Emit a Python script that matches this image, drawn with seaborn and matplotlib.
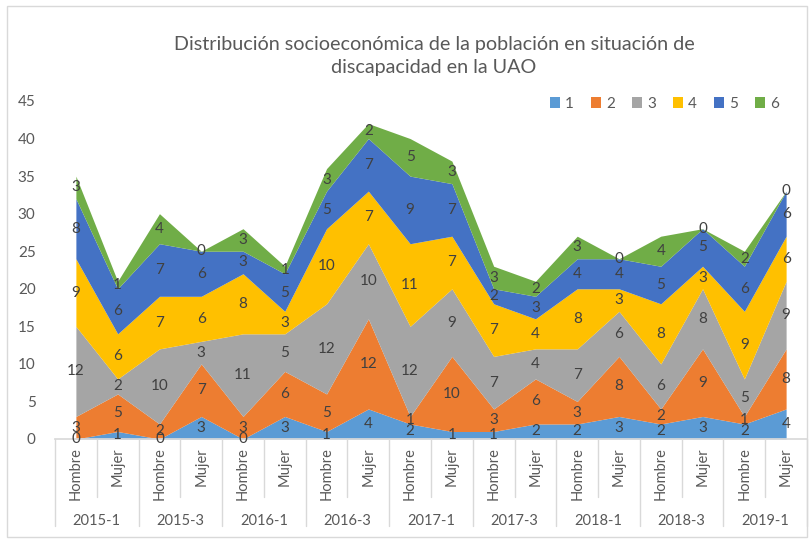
import numpy as np
import matplotlib
matplotlib.use("Agg")
import matplotlib.pyplot as plt
import matplotlib.transforms as mtransforms
from matplotlib.patches import Patch
import seaborn as sns

# Datos
semestres = ['2015-1', '2015-3', '2016-1', '2016-3', '2017-1', '2017-3', '2018-1', '2018-3', '2019-1']
generos = ['Hombre', 'Mujer']
estratos = ['1', '2', '3', '4', '5', '6']

estrato_1 = [0, 1, 0, 3, 0, 3, 1, 4, 2, 1, 1, 2, 2, 3, 2, 3, 2, 4]
estrato_2 = [3, 5, 2, 7, 3, 6, 5, 12, 1, 10, 3, 6, 3, 8, 2, 9, 1, 8]
estrato_3 = [12, 2, 10, 3, 11, 5, 12, 10, 12, 9, 7, 4, 7, 6, 6, 8, 5, 9]
estrato_4 = [9, 6, 7, 6, 8, 3, 10, 7, 11, 7, 7, 4, 8, 3, 8, 3, 9, 6]
estrato_5 = [8, 6, 7, 6, 3, 5, 5, 7, 9, 7, 2, 3, 4, 4, 5, 5, 6, 6]
estrato_6 = [3, 1, 4, 0, 3, 1, 3, 2, 5, 3, 3, 2, 3, 0, 4, 0, 2, 0]

colores = ['#5B9BD5', '#ED7D31', '#A5A5A5', '#FFC000', '#4472C4', '#70AD47']

sns.set_theme(style="white")
plt.rcParams['font.family'] = ['Lato', 'DejaVu Sans']

series = np.array([estrato_1, estrato_2, estrato_3, estrato_4, estrato_5, estrato_6])
x = np.arange(series.shape[1])
etiquetas_x = generos * len(semestres)

fig = plt.figure(figsize=(8.11, 5.41), dpi=100)
ax = fig.add_axes([55 / 811, 102 / 541, 752 / 811, 338 / 541])

ax.stackplot(x, series, colors=colores, linewidth=0)

# Etiquetas de datos en el centro de cada banda
acumulado = np.cumsum(series, axis=0)
for i in range(series.shape[0]):
    centros = acumulado[i] - series[i] / 2
    for j in range(series.shape[1]):
        ax.text(x[j], centros[j], str(series[i][j]), ha='center', va='center',
                fontsize=11, color='#404040')

ax.set_xlim(-0.5, len(x) - 0.5)
ax.set_ylim(0, 45)
ax.set_yticks(range(0, 46, 5))
ax.tick_params(axis='y', labelsize=11, labelcolor='#595959', length=0, pad=14)
ax.set_xticks(x)
ax.set_xticklabels(etiquetas_x, rotation=90, fontsize=10.5, color='#595959')
ax.tick_params(axis='x', length=0, pad=6)

for s in ['top', 'right', 'left']:
    ax.spines[s].set_visible(False)
ax.spines['bottom'].set_color('#D9D9D9')

# Eje de categorias de varios niveles
trans = mtransforms.blended_transform_factory(ax.transData, ax.transAxes)
for k in range(len(semestres)):
    ax.plot([2 * k + 0.5, 2 * k + 0.5], [0, -0.172], transform=trans,
            color='#D9D9D9', lw=1, clip_on=False)
    ax.text(2 * k + 0.5, -0.243, semestres[k], transform=trans, ha='center', va='center',
            fontsize=10.5, color='#595959')
for k in range(len(semestres) + 1):
    ax.plot([2 * k - 0.5, 2 * k - 0.5], [0, -0.257], transform=trans,
            color='#D9D9D9', lw=1, clip_on=False)

handles = [Patch(facecolor=c, edgecolor='none') for c in colores]
fig.legend(handles, estratos, loc='center left', bbox_to_anchor=(536 / 811, 1 - 104 / 541),
           ncol=6, frameon=False, handlelength=0.7, handleheight=0.7, handletextpad=0.3,
           columnspacing=1.1, fontsize=11, labelcolor='#595959')

fig.text(434 / 811, 1 - 45 / 541, 'Distribución socioeconómica de la población en situación de',
         ha='center', va='center', fontsize=14.2, color='#595959')
fig.text(434 / 811, 1 - 68 / 541, 'discapacidad en la UAO',
         ha='center', va='center', fontsize=14.2, color='#595959')

# Marco del grafico
fig.patches.append(plt.Rectangle((7 / 811, 4 / 541), 800 / 811, 531 / 541, transform=fig.transFigure,
                                 fill=False, edgecolor='#D9D9D9', lw=1))

plt.savefig('out.png', dpi=100)
